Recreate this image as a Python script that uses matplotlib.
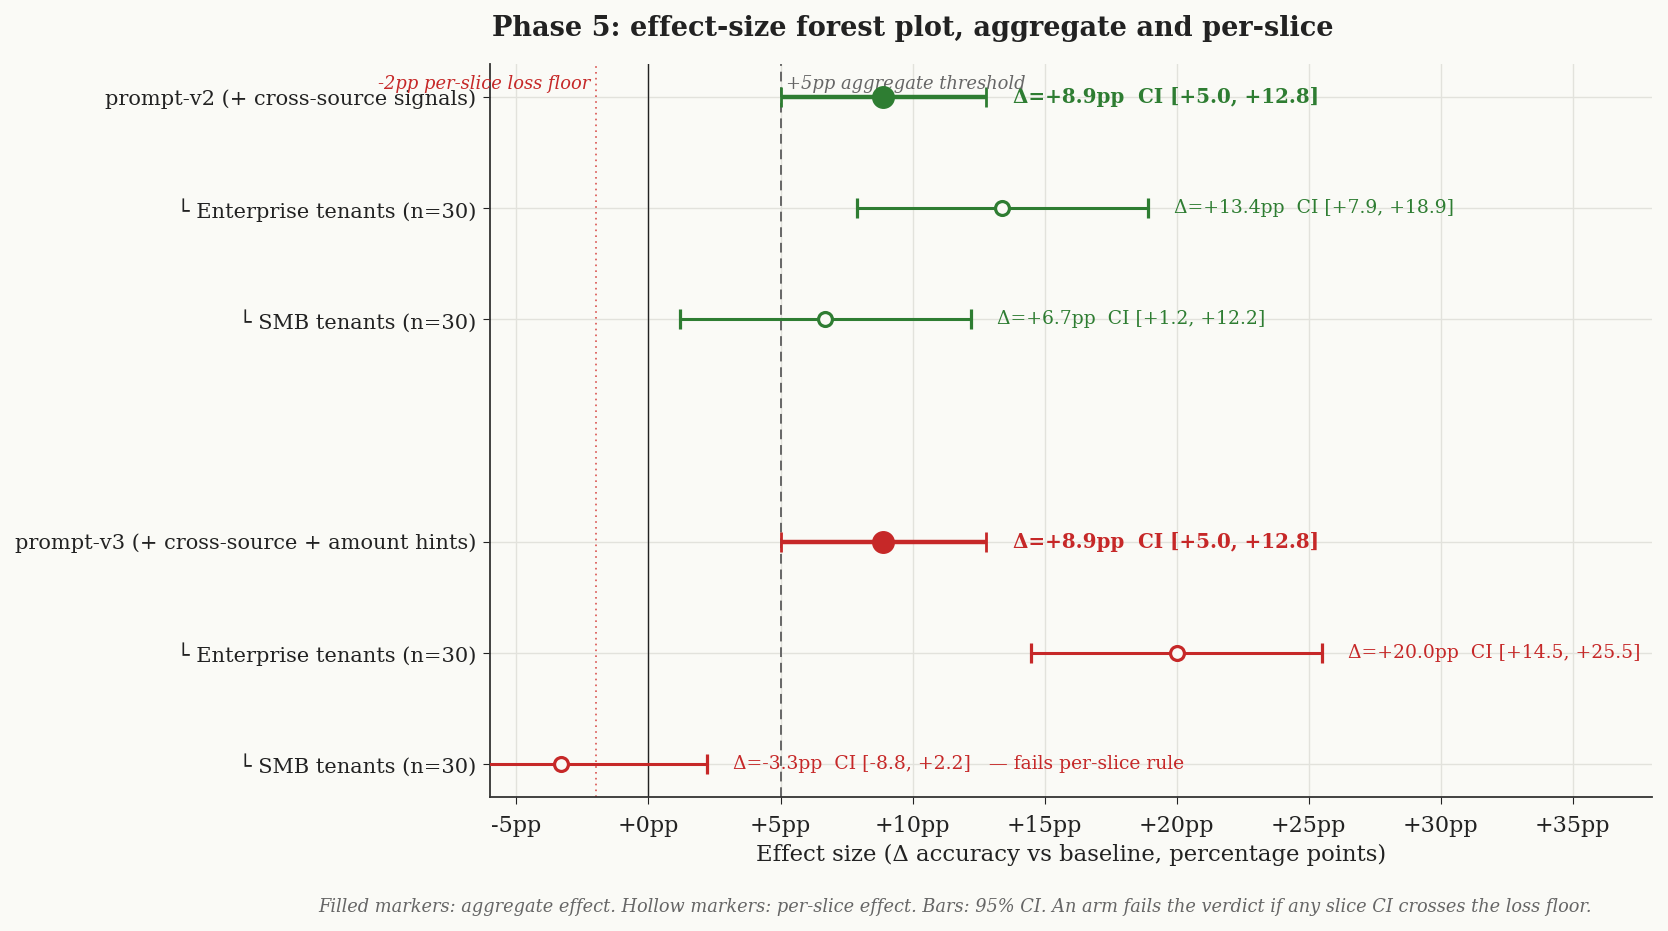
import matplotlib
matplotlib.use("Agg")
import matplotlib.pyplot as plt

labels = ["prompt-v2 (+ cross-source signals)", "└ Enterprise tenants (n=30)", "└ SMB tenants (n=30)",
          "prompt-v3 (+ cross-source + amount hints)", "└ Enterprise tenants (n=30)", "└ SMB tenants (n=30)"]
ypos = [0, 1, 2, 4, 5, 6]
effects = [8.9, 13.4, 6.7, 8.9, 20.0, -3.3]
ci_lo = [5.0, 7.9, 1.2, 5.0, 14.5, -8.8]
ci_hi = [12.8, 18.9, 12.2, 12.8, 25.5, 2.2]
is_agg = [True, False, False, True, False, False]
arm_colors = ["#2e7d32", "#2e7d32", "#2e7d32", "#c62828", "#c62828", "#c62828"]
xticks = [-5, 0, 5, 10, 15, 20, 25, 30, 35]
loss_floor = -2
agg_threshold = 5

plt.rcParams['font.family'] = ['DejaVu Serif']
bg = "#fafaf6"
fig = plt.figure(figsize=(16.68, 9.31), dpi=100, facecolor=bg)
ax = fig.add_axes([490/1668, 1 - 797/931, (1652-490)/1668, (797-64)/931])
ax.set_facecolor(bg)

ax.grid(True, color="#e2e2dc", linewidth=1.0, zorder=0)
ax.set_axisbelow(True)

ax.axvline(0, color="#222222", linewidth=1.0, zorder=1)
ax.axvline(agg_threshold, color="#666666", linewidth=1.4, linestyle=(0, (5, 3)), zorder=1)
ax.axvline(loss_floor, color="#d9534f", linewidth=1.2, linestyle=(0, (1, 2.5)), zorder=1)

for y, e, lo, hi, agg, c in zip(ypos, effects, ci_lo, ci_hi, is_agg, arm_colors):
    if agg:
        ax.errorbar([e], [y], xerr=[[e - lo], [hi - e]], fmt='o', color=c, ecolor=c,
                    elinewidth=3.2, capsize=7, capthick=2, markersize=15.5, zorder=3)
        txt = f"Δ={e:+.1f}pp  CI [{lo:+.1f}, {hi:+.1f}]"
        ax.text(hi + 1.0, y, txt, color=c, fontsize=14.3, fontweight='bold', va='center', ha='left')
    else:
        ax.errorbar([e], [y], xerr=[[e - lo], [hi - e]], fmt='o', color=c, ecolor=c,
                    elinewidth=2.2, capsize=7, capthick=2, markersize=10,
                    markerfacecolor=bg, markeredgewidth=2.3, zorder=3)
        txt = f"Δ={e:+.1f}pp  CI [{lo:+.1f}, {hi:+.1f}]"
        if lo < loss_floor:
            txt += "   — fails per-slice rule"
        ax.text(hi + 1.0, y, txt, color=c, fontsize=13.5, va='center', ha='left')

ax.text(loss_floor - 0.2, -0.12, "-2pp per-slice loss floor", color="#c62828", fontsize=12.85,
        style='italic', ha='right', va='center')
ax.text(agg_threshold + 0.2, -0.12, "+5pp aggregate threshold", color="#666666", fontsize=12.9,
        style='italic', ha='left', va='center')

ax.set_xlim(-6, 38)
ax.set_ylim(6.3, -0.3)
ax.set_yticks(ypos)
ax.set_yticklabels(labels, fontsize=15)
ax.set_xticks(xticks)
ax.set_xticklabels([f"{t:+d}pp" if t != 0 else "+0pp" for t in xticks], fontsize=16)
ax.set_xlabel("Effect size (Δ accuracy vs baseline, percentage points)", fontsize=16.4,
              color="#222222", labelpad=5)
for s in ["top", "right"]:
    ax.spines[s].set_visible(False)
for s in ["left", "bottom"]:
    ax.spines[s].set_color("#333333")
    ax.spines[s].set_linewidth(1.3)
ax.tick_params(colors="#222222", length=5)
ax.tick_params(axis='x', pad=8)
ax.tick_params(axis='y', pad=5)

fig.text(0.547, 1 - 28/931, "Phase 5: effect-size forest plot, aggregate and per-slice",
         ha='center', va='center', fontsize=19.5, fontweight='bold', color="#222222")
fig.text(0.5725, 1 - 907/931,
         "Filled markers: aggregate effect. Hollow markers: per-slice effect. Bars: 95% CI. An arm fails the verdict if any slice CI crosses the loss floor.",
         ha='center', va='center', fontsize=12.8, style='italic', color="#666666")

fig.savefig("out.png", dpi=100, facecolor=bg)
